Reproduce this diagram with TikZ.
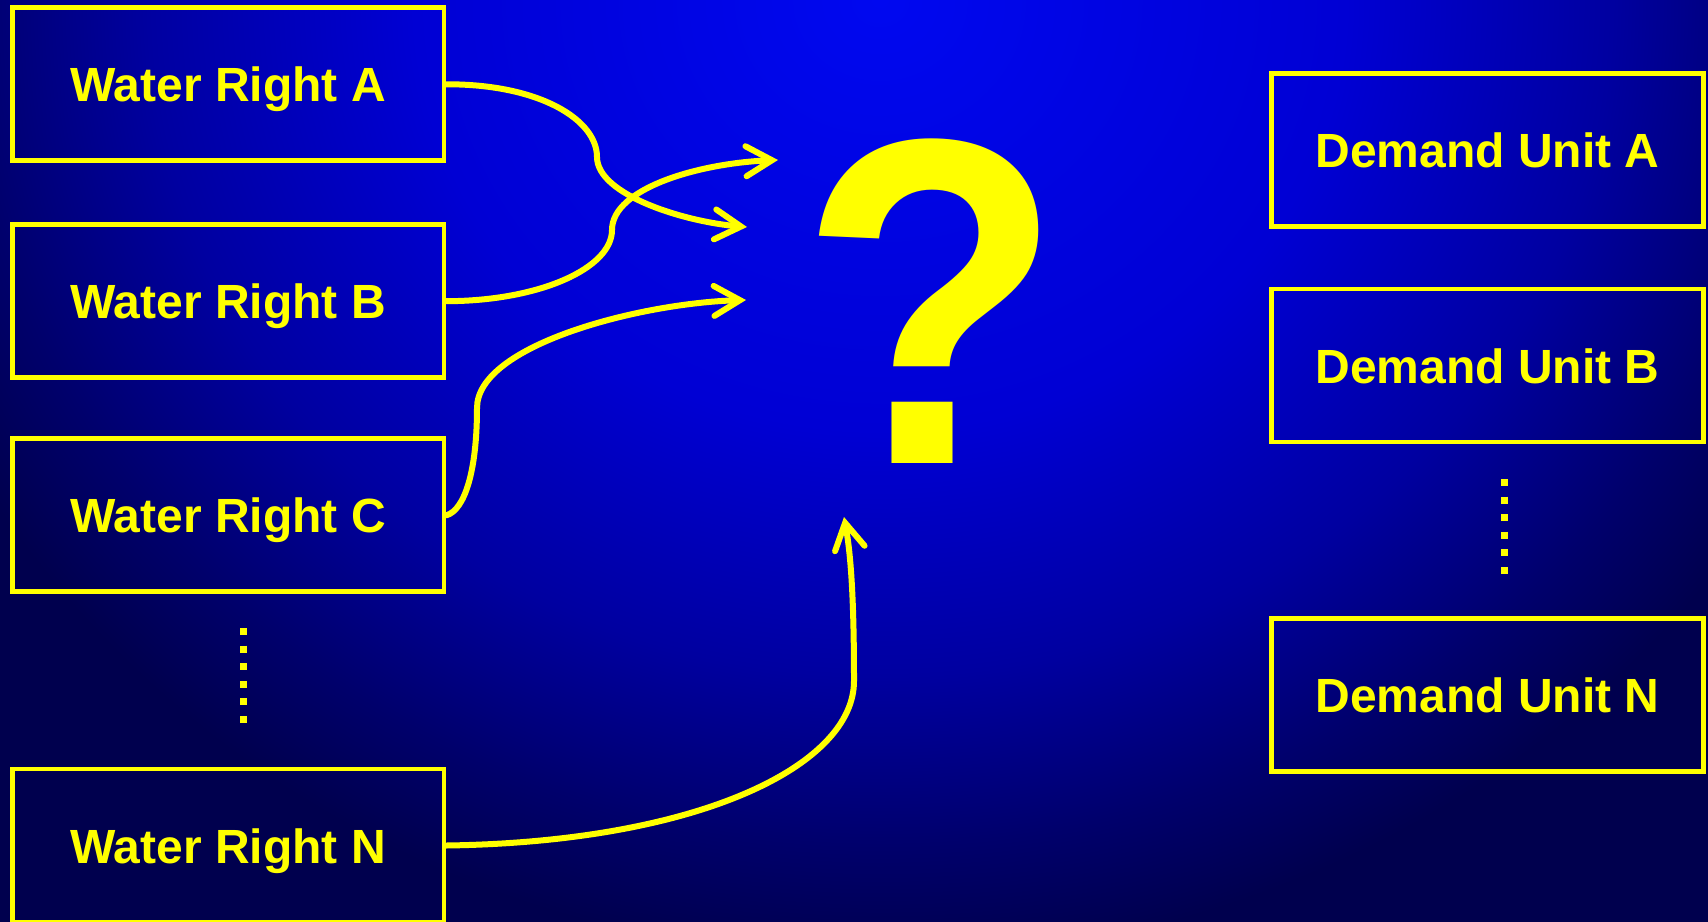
\documentclass[tikz,border=0pt]{standalone}
\usepackage{fontspec}
\setmainfont{Liberation Sans}
\usetikzlibrary{arrows.meta}

\definecolor{glowblue}{RGB}{0,8,240}
\definecolor{midblue}{RGB}{0,0,212}
\definecolor{dimblue}{RGB}{0,0,160}
\definecolor{duskblue}{RGB}{0,0,108}
\definecolor{deepnavy}{RGB}{0,0,78}
\definecolor{signyellow}{RGB}{255,255,0}

\pgfdeclareradialshading{bgglow}{\pgfpoint{0bp}{0bp}}{%
  color(0bp)=(glowblue); color(5.6bp)=(midblue); color(8.8bp)=(dimblue);
  color(11bp)=(duskblue); color(12.5bp)=(deepnavy); color(50bp)=(deepnavy)}

\begin{document}
\begin{tikzpicture}[x=1pt, y=-1pt,
    wrbox/.style={draw=signyellow, line width=4.8pt, minimum width=431.5pt,
      minimum height=153pt, inner sep=0pt, text=signyellow,
      font=\fontsize{48}{48}\selectfont\bfseries, text height=35pt, text depth=0pt},
    flow/.style={draw=signyellow, line width=6pt, line cap=round,
      -{Straight Barb[length=26pt, width=30pt, line cap=round]}},
    dotcol/.style={draw=signyellow, line width=7pt, dash pattern=on 7pt off 10.6pt}]

    % Background
    \useasboundingbox (0,0) rectangle (1708,921);
    \clip (0,0) rectangle (1708,921);
    \shade[shading=bgglow] (880,0) ellipse [x radius=2080, y radius=1920];

    % Water rights
    \foreach \tag/\ypos in {A/84.3, B/301.2, C/515.3, N/845.5} {
      \node[wrbox] (wr\tag) at (228.2,\ypos) {Water Right \tag};
    }

    % Demand units
    \foreach \tag/\ypos in {A/149.8, B/365.5, N/695} {
      \node[wrbox] (du\tag) at (1487.5,\ypos) {Demand Unit \tag};
    }

    % Gaps in the lists
    \draw[dotcol] (243.5,628) -- (243.5,723);
    \draw[dotcol] (1504,479) -- (1504,574);

    % Question mark
    \node[text=signyellow, font=\fontsize{465}{465}\selectfont\bfseries,
      anchor=base, inner sep=0pt] (qmark) at (931.5,463) {\scalebox{0.93}[1]{?}};

    % Arrow tips
    \coordinate (tipA) at (747,227);
    \coordinate (tipB) at (778,160);
    \coordinate (tipC) at (746,300);
    \coordinate (tipN) at (844,517);

    % Flows
    \draw[flow] (wrA.east) .. controls (540,84) and (597,120) .. (597,157)
      .. controls (597,195) and (685,222) .. (tipA);
    \draw[flow] (wrB.east) .. controls (540,301) and (612,268) .. (612,230)
      .. controls (612,188) and (700,163) .. (tipB);
    \draw[flow] (wrC.east) .. controls (465,510) and (477,470) .. (477,408)
      .. controls (477,345) and (640,303) .. (tipC);
    \draw[flow] (wrN.east) .. controls (700,842) and (854,765) .. (854,681)
      .. controls (854,600) and (851,555) .. (tipN);

\end{tikzpicture}
\end{document}
